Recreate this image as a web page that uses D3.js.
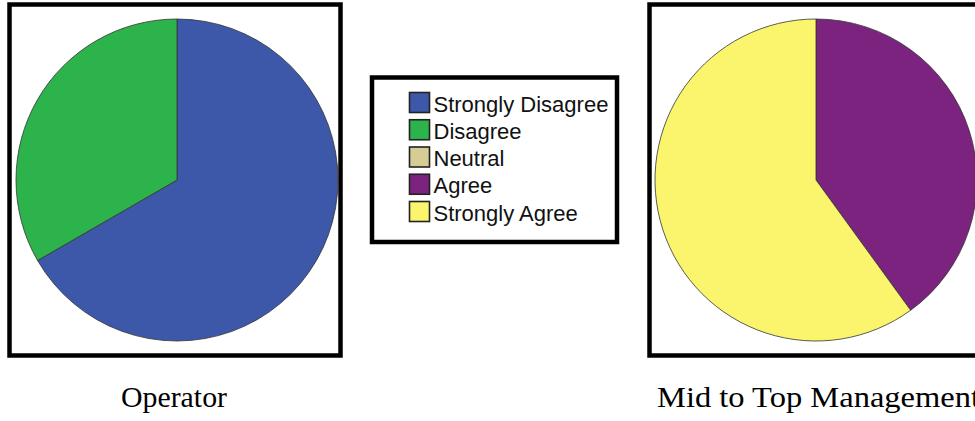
<!DOCTYPE html>
<html>
<head>
<meta charset="utf-8">
<script src="https://cdn.jsdelivr.net/npm/d3@7"></script>
<style>
html,body{margin:0;padding:0;background:#fff;}
svg{display:block;}
</style>
</head>
<body>
<svg id="chart" width="975" height="421"></svg>
<script>
const categories = ["Strongly Disagree", "Disagree", "Neutral", "Agree", "Strongly Agree"];
const colors = ["#3e58a9", "#2db34b", "#d6cd96", "#7b237f", "#fbf46d"];
const groups = ["Operator", "Mid to Top Management"];
const operatorValues = [2, 1, 0, 0, 0];
const managementValues = [0, 0, 0, 2, 3];

const svg = d3.select("#chart");
const color = d3.scaleOrdinal().domain(categories).range(colors);
const pie = d3.pie().sort(null).value(d => d.value);
const arc = d3.arc().innerRadius(0).outerRadius(161);

const panels = [
  {name: groups[0], values: operatorValues, frame: {x: 9.5, y: 4.5, w: 331, h: 351}, cx: 177, cy: 180, labelX: 121, labelW: 106},
  {name: groups[1], values: managementValues, frame: {x: 649.5, y: 4.5, w: 340, h: 351}, cx: 816, cy: 180, labelX: 657, labelW: 323}
];

panels.forEach(p => {
  svg.append("rect")
    .attr("x", p.frame.x).attr("y", p.frame.y)
    .attr("width", p.frame.w).attr("height", p.frame.h)
    .attr("fill", "#fff").attr("stroke", "#000").attr("stroke-width", 4.5);
  const data = categories.map((c, i) => ({cat: c, value: p.values[i]}));
  const g = svg.append("g").attr("transform", `translate(${p.cx},${p.cy})`);
  g.selectAll("path")
    .data(pie(data).filter(d => d.data.value > 0))
    .join("path")
    .attr("d", arc)
    .attr("fill", d => color(d.data.cat))
    .attr("stroke", "#333")
    .attr("stroke-width", 0.8);
  svg.append("text")
    .attr("x", p.labelX).attr("y", 407)
    .attr("font-family", "'Liberation Serif', 'Times New Roman', serif")
    .attr("font-size", 30)
    .attr("textLength", p.labelW)
    .attr("lengthAdjust", "spacingAndGlyphs")
    .attr("fill", "#000")
    .text(p.name);
});

// Legend
const lg = svg.append("g");
lg.append("rect")
  .attr("x", 372).attr("y", 77.5).attr("width", 245).attr("height", 164.5)
  .attr("fill", "#fff").attr("stroke", "#000").attr("stroke-width", 4.5);
const rowY = d3.scalePoint().domain(categories).range([92, 201]);
const rows = lg.selectAll("g.row").data(categories).join("g").attr("class", "row")
  .attr("transform", d => `translate(0,${rowY(d)})`);
rows.append("rect")
  .attr("x", 409.5).attr("y", 0.5).attr("width", 20).attr("height", 20)
  .attr("fill", d => color(d))
  .attr("stroke", "#222").attr("stroke-width", 1.6);
rows.append("text")
  .attr("x", 433.5).attr("y", 19.5)
  .attr("font-family", "'Liberation Sans', Arial, sans-serif")
  .attr("font-size", 22)
  .attr("fill", "#111")
  .text(d => d);
</script>
</body>
</html>
